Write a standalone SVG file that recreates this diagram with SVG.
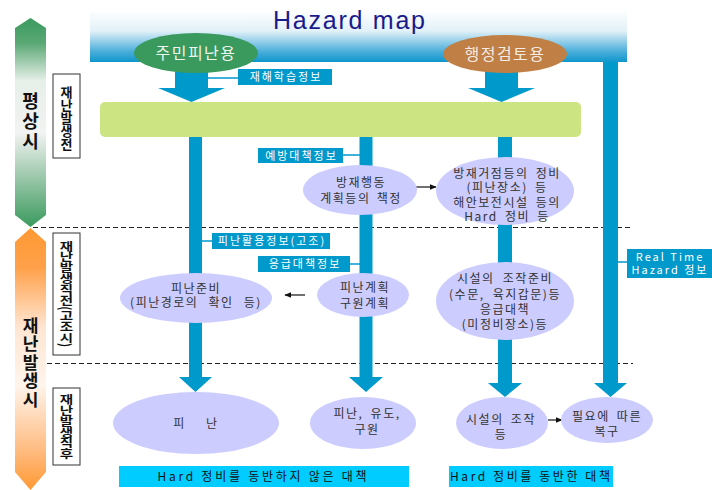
<svg xmlns="http://www.w3.org/2000/svg" width="712" height="490" viewBox="0 0 712 490">
<defs>
<linearGradient id="gBanner" x1="0" y1="0" x2="0" y2="1">
<stop offset="0" stop-color="#ffffff"/>
<stop offset="0.4" stop-color="#e2f1f8"/>
<stop offset="0.8" stop-color="#4aaedb"/>
<stop offset="1" stop-color="#0e96cb"/>
</linearGradient>
<linearGradient id="gGreen" x1="0" y1="0" x2="0" y2="1">
<stop offset="0" stop-color="#3a9a5e"/>
<stop offset="0.12" stop-color="#5aa874"/>
<stop offset="0.3" stop-color="#e6efe8"/>
<stop offset="0.55" stop-color="#f2f3f2"/>
<stop offset="0.8" stop-color="#8cc09e"/>
<stop offset="1" stop-color="#3a9a5e"/>
</linearGradient>
<linearGradient id="gOrange" x1="0" y1="0" x2="0" y2="1">
<stop offset="0" stop-color="#ff9933"/>
<stop offset="0.15" stop-color="#ffa04a"/>
<stop offset="0.38" stop-color="#ffe6d2"/>
<stop offset="0.6" stop-color="#fff4ec"/>
<stop offset="0.85" stop-color="#ffbb80"/>
<stop offset="1" stop-color="#ff9933"/>
</linearGradient>
<marker id="ah" viewBox="0 0 10 10" refX="9" refY="5" markerWidth="7" markerHeight="7" orient="auto" markerUnits="userSpaceOnUse">
<path d="M0,1 L10,5 L0,9 z" fill="#111"/>
</marker>
<style>
.bar{fill:#0099cc}
.lab{fill:#0099cc}
.labt{fill:#ffffff;font-family:"Noto Sans CJK KR","Liberation Sans",sans-serif;font-size:11px;letter-spacing:2px;text-anchor:middle}
.ell{fill:#ccccff}
.et{fill:#333333;font-family:"Noto Sans CJK KR","Liberation Sans",sans-serif;font-size:12px;letter-spacing:1.5px;text-anchor:middle}
.vbox{fill:#ffffff;stroke:#333333;stroke-width:1}
.vt{fill:#111;font-family:"Noto Sans CJK KR",sans-serif;font-weight:bold;writing-mode:vertical-rl;text-anchor:middle}
.link{stroke:#0099cc;stroke-width:1.5;fill:none}
.dash{stroke:#222;stroke-width:1;stroke-dasharray:5 3;fill:none}
.arr{stroke:#111;stroke-width:1.2;fill:none}
.bot{fill:#00ccff}
.bt{fill:#111;font-family:"Noto Sans CJK KR","Liberation Sans",sans-serif;font-size:12px;letter-spacing:2px;text-anchor:middle}
</style>
</defs>

<g id="phase-normal">
<path d="M30.5,18 L46,28 L46,215 L30.5,227 L15,215 L15,28 Z" fill="url(#gGreen)"/>
<text class="vt" x="30.5" y="122" font-size="18" letter-spacing="2">평상시</text>
</g>
<g id="phase-disaster">
<path d="M30.5,228 L46,242 L46,472 L30.5,490 L15,472 L15,242 Z" fill="url(#gOrange)"/>
<text class="vt" x="30.5" y="363" font-size="17" letter-spacing="1.5">재난발생시</text>
</g>

<g id="stage-before">
<rect class="vbox" x="53" y="74" width="27" height="84"/>
<text class="vt" x="66.5" y="118" font-size="13">재난발생전</text>
</g>
<g id="stage-just-before">
<rect class="vbox" x="53" y="233" width="27" height="122"/>
<text class="vt" transform="translate(66.5,294) scale(1,0.75)" x="0" y="0" font-size="14.5">재난발생직전(고조시)</text>
</g>
<g id="stage-just-after">
<rect class="vbox" x="53" y="388" width="27" height="77"/>
<text class="vt" transform="translate(66.5,427) scale(1,0.75)" x="0" y="0" font-size="14.5">재난발생직후</text>
</g>

<g id="dividers">
<line class="dash" x1="33" y1="227.5" x2="633" y2="227.5"/>
<line class="dash" x1="47" y1="363.5" x2="633" y2="363.5"/>
</g>

<g id="title">
<rect x="90" y="10" width="537" height="52" fill="url(#gBanner)"/>
<text x="349" y="29" font-family="Liberation Sans, Arial, sans-serif" font-size="25" fill="#1a1a8a" text-anchor="middle" textLength="152" lengthAdjust="spacing">Hazard map</text>
</g>

<g id="connectors">
<path class="bar" d="M175,70 L208,70 L208,88 L225,88 L191.5,102 L158,88 L175,88 Z"/>
<path class="bar" d="M485,70 L518,70 L518,88 L535,88 L501.5,102 L468,88 L485,88 Z"/>
<path class="bar" d="M189,136 L202,136 L202,377 L212,377 L195.5,392 L179,377 L189,377 Z"/>
<path class="bar" d="M359.5,136 L372.5,136 L372.5,377 L383,377 L366,392 L349,377 L359.5,377 Z"/>
<path class="bar" d="M498,136 L512,136 L512,383 L522,383 L505,397 L488,383 L498,383 Z"/>
<path class="bar" d="M603,62 L618,62 L618,383 L627,383 L610.5,397 L594,383 L603,383 Z"/>
<line class="link" x1="208" y1="78" x2="238" y2="78"/>
<line class="link" x1="343" y1="155" x2="360" y2="155"/>
<line class="link" x1="202" y1="241" x2="212" y2="241"/>
<line class="link" x1="350" y1="264" x2="360" y2="264"/>
<line class="link" x1="618" y1="262" x2="627" y2="262"/>
<line class="arr" x1="416" y1="187" x2="436" y2="187" marker-end="url(#ah)"/>
<line class="arr" x1="305" y1="295" x2="285" y2="295" marker-end="url(#ah)"/>
<line class="arr" x1="548" y1="420" x2="562" y2="420" marker-end="url(#ah)"/>
</g>

<g id="resident-use">
<ellipse cx="196" cy="53" rx="62" ry="20" fill="#3a9a5e"/>
<text x="196" y="59" font-family="Noto Sans CJK KR, sans-serif" font-size="16" fill="#eef4ee" text-anchor="middle" letter-spacing="1.5">주민피난용</text>
</g>
<g id="admin-use">
<ellipse cx="505" cy="54" rx="62" ry="19" fill="#c07f45"/>
<text x="505" y="60" font-family="Noto Sans CJK KR, sans-serif" font-size="16" fill="#f4ece4" text-anchor="middle" letter-spacing="1.5">행정검토용</text>
</g>

<g id="green-bar">
<rect x="100" y="102" width="481" height="35" rx="5" fill="#cde483"/>
</g>

<g id="label-learning">
<rect class="lab" x="238" y="69" width="94" height="16"/>
<text class="labt" x="286" y="81">재해학습정보</text>
</g>
<g id="label-prevention">
<rect class="lab" x="258" y="148" width="85" height="15"/>
<text class="labt" x="301.5" y="159.5">예방대책정보</text>
</g>
<g id="label-evac-info">
<rect class="lab" x="212" y="233" width="118" height="16"/>
<text class="labt" x="272" y="245">피난활용정보(고조)</text>
</g>
<g id="label-emergency">
<rect class="lab" x="258" y="256" width="92" height="16"/>
<text class="labt" x="305" y="268">응급대책정보</text>
</g>
<g id="label-realtime">
<rect class="lab" x="627" y="249" width="85" height="29"/>
<text class="labt" x="670" y="260.5" font-size="10.5" letter-spacing="1.5">Real Time</text>
<text class="labt" x="670" y="274" font-size="10.5" letter-spacing="1.5">Hazard 정보</text>
</g>

<g id="plan">
<ellipse class="ell" cx="360" cy="190" rx="57" ry="25"/>
<text class="et" x="361" y="186.5" font-size="13" letter-spacing="2">방재행동</text>
<text class="et" x="361" y="203" font-size="13" letter-spacing="2" word-spacing="2">계획등의 책정</text>
</g>
<g id="hard-works">
<ellipse class="ell" cx="505" cy="191" rx="69" ry="34"/>
<text class="et" x="507" y="177.5" font-size="11" word-spacing="3">방재거점등의 정비</text>
<text class="et" x="507" y="192" font-size="11" word-spacing="3">(피난장소) 등</text>
<text class="et" x="507" y="206.5" font-size="11" word-spacing="3">해안보전시설 등의</text>
<text class="et" x="507" y="221" font-size="11" word-spacing="3">Hard 정비 등</text>
</g>
<g id="evac-prep">
<ellipse class="ell" cx="196" cy="298" rx="76" ry="25"/>
<text class="et" x="196" y="292.5" font-size="11.5" word-spacing="6">피난준비</text>
<text class="et" x="196" y="307" font-size="11.5" word-spacing="6">(피난경로의 확인 등)</text>
</g>
<g id="evac-plan">
<ellipse class="ell" cx="363" cy="295" rx="46" ry="22"/>
<text class="et" x="365" y="292" font-size="12.5" letter-spacing="1.3">피난계획</text>
<text class="et" x="365" y="307.5" font-size="12.5" letter-spacing="1.3">구원계획</text>
</g>
<g id="facility-prep">
<ellipse class="ell" cx="505" cy="301" rx="69" ry="39"/>
<text class="et" x="505" y="283" font-size="12.5" letter-spacing="1" word-spacing="4">시설의 조작준비</text>
<text class="et" x="505" y="298.5" font-size="12.5" letter-spacing="1" word-spacing="4">(수문, 육지갑문)등</text>
<text class="et" x="505" y="313.5" font-size="12.5" letter-spacing="1">응급대책</text>
<text class="et" x="505" y="328.5" font-size="12.5" letter-spacing="1">(미정비장소)등</text>
</g>
<g id="evacuate">
<ellipse class="ell" cx="196" cy="423" rx="83" ry="31"/>
<text class="et" x="196" y="428" font-size="12.5" word-spacing="16">피 난</text>
</g>
<g id="rescue">
<ellipse class="ell" cx="363" cy="423" rx="53" ry="26"/>
<text class="et" x="367" y="418" word-spacing="3">피난, 유도,</text>
<text class="et" x="367" y="434">구원</text>
</g>
<g id="operate">
<ellipse class="ell" cx="502" cy="423" rx="46" ry="26"/>
<text class="et" x="501" y="424" word-spacing="3">시설의 조작</text>
<text class="et" x="501" y="439">등</text>
</g>
<g id="restore">
<ellipse class="ell" cx="607" cy="420" rx="46" ry="23"/>
<text class="et" x="607" y="420.5" word-spacing="3">필요에 따른</text>
<text class="et" x="607" y="435.5">복구</text>
</g>

<g id="non-hard">
<rect class="bot" x="119" y="466" width="290" height="21"/>
<text class="bt" x="263" y="481" textLength="211">Hard 정비를 동반하지 않은 대책</text>
</g>
<g id="hard">
<rect class="bot" x="449" y="466" width="164" height="21"/>
<text class="bt" x="531" y="481" textLength="162">Hard 정비를 동반한 대책</text>
</g>
</svg>
